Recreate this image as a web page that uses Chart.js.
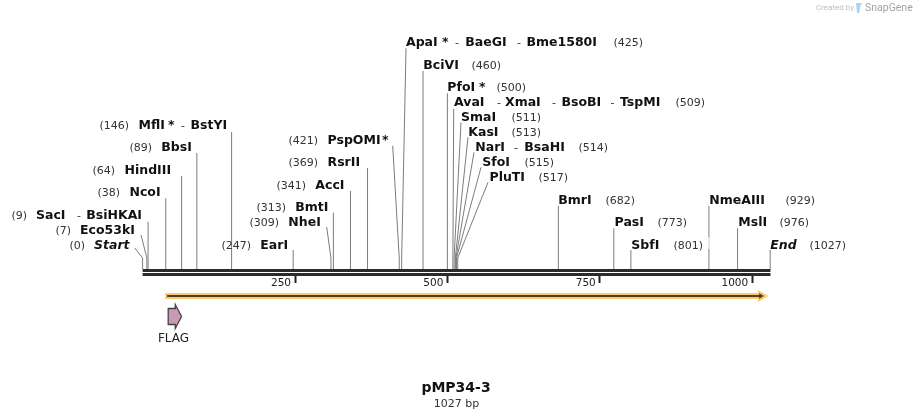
<!DOCTYPE html>
<html><head><meta charset="utf-8">
<style>html,body{margin:0;padding:0;background:#fff;overflow:hidden}canvas{display:block}</style>
<script src="https://cdn.jsdelivr.net/npm/chart.js@4/dist/chart.umd.min.js"></script>
</head><body><canvas id="c" width="913" height="419"></canvas>
<script>
const sitePositions = [0,7,9,38,64,89,146,247,309,313,341,369,421,425,460,500,509,511,513,514,515,517,682,773,801,929,976,1027];
const siteNames = [["Start"],["Eco53kI"],["SacI","BsiHKAI"],["NcoI"],["HindIII"],["BbsI"],["MflI","BstYI"],["EarI"],["NheI"],["BmtI"],["AccI"],["RsrII"],["PspOMI"],["ApaI","BaeGI","Bme1580I"],["BciVI"],["PfoI"],["AvaI","XmaI","BsoBI","TspMI"],["SmaI"],["KasI"],["NarI","BsaHI"],["SfoI"],["PluTI"],["BmrI"],["PasI"],["SbfI"],["NmeAIII"],["MslI"],["End"]];
const tickValues = [250,500,750,1000];
const sequenceLength = 1027;
const drawnSequenceEnd = 1030;
const featureNames = ["FLAG"];
const flagRange = [42,64];
const orangeRange = [37,1024];
const title = "pMP34-3";

// ---- layout (pixels) ----
const X0 = 142.6, PX_PER_BP = 0.6096, W = 913, H = 419;
const pxToBp = p => (p - X0) / PX_PER_BP;
const BASE_Y = 269, KNEE_Y = 258;
// y, numberX, name Xs, separator Xs, star X, stem top X (null = straight), stem top Y
const labelLayout = [
 [245, 69.5,[94],[],null,134.7,248],
 [230, 55.5,[80],[],null,141,235],
 [215, 11.5,[36,86.3],[77],null,null,221.7],
 [192, 97.5,[129.5],[],null,null,198.3],
 [170, 92.5,[124.5],[],null,null,176],
 [147,129.5,[161.3],[],null,null,153],
 [125, 99.5,[138.5,190.5],[181],168,null,132],
 [245,221.5,[260.3],[],null,null,250],
 [222,249.5,[288.3],[],null,326.7,227],
 [207,256.5,[295.3],[],null,null,212.7],
 [185,276.5,[315.3],[],null,null,191],
 [162,288.5,[327.5],[],null,null,168],
 [140,288.5,[327.5],[],382,392.7,145.7],
 [42,613.5,[406,465.3,526.5],[455,517],442,406,48.3],
 [65,471.5,[423.3],[],null,null,71],
 [87,496.5,[447.3],[],479,null,93.3],
 [102,675.5,[454,505,561.5,620],[497,552,610.5],null,453.7,109],
 [117,511.5,[461],[],null,461,122.5],
 [132,511.5,[468.3],[],null,468,137.3],
 [147,578.5,[475.3,524.3],[514],null,474,152.3],
 [162,524.5,[482.3],[],null,481,167.3],
 [177,538.5,[489.5],[],null,488,182.3],
 [200,605.5,[558.3],[],null,null,205.7],
 [222,657.5,[614.6],[],null,null,228.3],
 [245,673.5,[631.3],[],null,null,250],
 [200,785.5,[709.3],[],null,null,206],
 [222,779.5,[738.3],[],null,null,228.3],
 [245,809.5,[770.3],[],null,null,250]
];
const FONT = '"DejaVu Sans"';
const datasets = [];
const line = (pts, color, width, order, extra) => datasets.push(Object.assign({data:pts,showLine:true,borderColor:color,backgroundColor:color,borderWidth:width,pointRadius:0,order,fill:false,tension:0,borderCapStyle:'butt',borderJoinStyle:'miter'},extra||{}));

// sequence backbone
line([{x:0,y:270.5},{x:drawnSequenceEnd,y:270.5}],'#2b2b2b',3,1);
line([{x:0,y:274.5},{x:drawnSequenceEnd,y:274.5}],'#2b2b2b',3,1);
// enzyme stems
sitePositions.forEach((bp,i)=>{
  const [, , , , , topX, topY] = labelLayout[i];
  const base = i === sitePositions.length-1 ? drawnSequenceEnd-0.5 : bp;
  const pts = [{x:base,y:BASE_Y}];
  if (topX !== null) { pts.push({x:base,y:KNEE_Y}); pts.push({x:pxToBp(topX),y:topY}); }
  else pts.push({x:base,y:topY});
  line(pts,'#7c7c7c',1,3);
});
// pale gap where the (801) label's halo crosses the NmeAIII stem
line([{x:929,y:237},{x:929,y:249}],'#ececec',1,2);
// orange strand feature
line([{x:orangeRange[0],y:296},{x:orangeRange[1]-13,y:296}],'#fdc86f',6,8);
line([{x:orangeRange[1]-9,y:296}],'#fdc86f',0,8,{showLine:false,pointStyle:'triangle',pointRadius:7,pointRotation:90,pointBackgroundColor:'#fdc86f',pointBorderWidth:0});
line([{x:orangeRange[0]+3,y:296},{x:orangeRange[1]-10,y:296}],'#4a4028',2,6);
line([{x:orangeRange[1]-10,y:296}],'#4a4028',0,6,{showLine:false,pointStyle:'triangle',pointRadius:3.2,pointRotation:90,pointBackgroundColor:'#4a4028',pointBorderWidth:0});
// FLAG arrow
const headBp = 53.6, c=316.5;
line([{x:flagRange[0],y:c},{x:flagRange[0],y:308.5},{x:headBp,y:308.5},{x:headBp,y:304.5},{x:flagRange[1],y:c}],'#454045',1.3,10,{fill:'+1',backgroundColor:'#c99ab5'});
line([{x:flagRange[0],y:c},{x:flagRange[0],y:324.5},{x:headBp,y:324.5},{x:headBp,y:328.5},{x:flagRange[1],y:c}],'#454045',1.3,9);

const textPlugin = {id:'texts',afterDraw(chart){
  const ctx = chart.ctx; ctx.save(); ctx.textBaseline='middle'; ctx.textAlign='left';
  const put=(t,x,y,font,color,ls)=>{ctx.font=font;ctx.fillStyle=color;ctx.letterSpacing=ls||'0px';ctx.fillText(t,x,y);};
  const BOLD=`bold 12.5px ${FONT}`, ITAL=`italic bold 12.5px ${FONT}`, NUM=`11px ${FONT}`;
  sitePositions.forEach((bp,i)=>{
    const [y,numX,nameXs,sepXs,starX]=labelLayout[i];
    put(`(${bp})`,numX,y+1,NUM,'#333','0px');
    const f=(i===0||i===sitePositions.length-1)?ITAL:BOLD;
    siteNames[i].forEach((n,k)=>put(n,nameXs[k],y+1,f,'#111','0px'));
    sepXs.forEach(x=>put('-',x,y+1,NUM,'#333'));
    if(starX!==null) put('*',starX,y+1,BOLD,'#111');
  });
  ctx.textAlign='center';
  put(featureNames[0],173.5,339,`12px ${FONT}`,'#222');
  put(title,456,388,`bold 14px ${FONT}`,'#111');
  put(`${sequenceLength} bp`,456.5,404,`11px ${FONT}`,'#333');
  ctx.textAlign='left';
  put('Created by',816,8,`8px Roboto`,'#bdbdbd');
  put('SnapGene',865,8,`10.5px Roboto`,'#a3a3a3');
  // SnapGene mark
  ctx.fillStyle='#a6d8f2';ctx.beginPath();ctx.moveTo(856,3);ctx.lineTo(862,3);ctx.lineTo(860,7);ctx.lineTo(859.5,13);ctx.lineTo(857,13);ctx.closePath();ctx.fill();
  ctx.restore();
}};

new Chart(document.getElementById('c'),{
  type:'scatter',
  data:{datasets},
  plugins:[textPlugin],
  options:{
    responsive:false,animation:false,events:[],
    layout:{padding:0,autoPadding:false},
    plugins:{legend:{display:false},tooltip:{enabled:false}},
    scales:{
      x:{type:'linear',min:pxToBp(0),max:pxToBp(W),position:{y:276},
        afterBuildTicks:s=>{s.ticks=tickValues.map(v=>({value:v}));},
        border:{display:false},
        grid:{drawOnChartArea:false,drawTicks:true,tickLength:7,tickWidth:2,tickColor:'#222'},
        ticks:{autoSkip:false,maxRotation:0,align:'end',labelOffset:-4,padding:-6,color:'#222',font:{family:'"DejaVu Sans"',size:10.5},callback:v=>String(v)}},
      y:{type:'linear',display:false,reverse:true,min:0,max:H}
    }
  }
});
</script></body></html>
